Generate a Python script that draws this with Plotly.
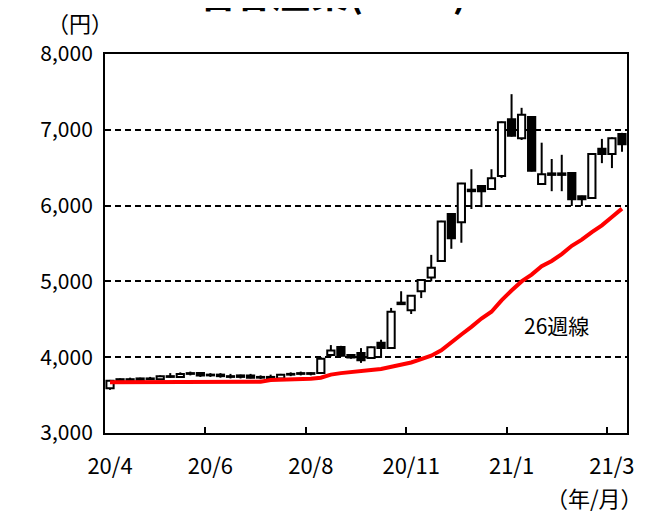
import plotly.graph_objects as go

# ---- data (weekly, 52 weeks from 2020/4 to 2021/3) ----
week_index = list(range(52))
open_ = [3590, 3690, 3710, 3700, 3720, 3710, 3750, 3740, 3780, 3790,
         3760, 3770, 3750, 3740, 3760, 3730, 3740, 3720, 3770, 3780,
         3790, 3790, 4030, 4135, 4030, 4055, 3990, 4190, 4120, 4720,
         4620, 4870, 5050, 5270, 5890, 5780, 6210, 6260, 6220, 6390,
         7140, 6890, 7170, 6285, 6425, 6425, 6430, 6125, 6100, 6750,
         6680, 6945]
high_ = [3700, 3720, 3730, 3730, 3740, 3760, 3790, 3800, 3810, 3800,
         3790, 3790, 3780, 3770, 3780, 3760, 3770, 3780, 3800, 3810,
         3800, 4000, 4160, 4150, 4040, 4120, 4140, 4230, 4650, 4870,
         4820, 5030, 5350, 5800, 5900, 6300, 6480, 6270, 6480, 7110,
         7470, 7290, 7180, 6830, 6615, 6670, 6430, 6130, 6690, 6880,
         6900, 6960]
low_ = [3570, 3680, 3690, 3690, 3700, 3700, 3730, 3730, 3760, 3740,
        3740, 3730, 3720, 3720, 3720, 3710, 3710, 3710, 3750, 3760,
        3760, 3780, 4010, 4010, 3980, 3925, 3980, 3990, 4110, 4700,
        4570, 4780, 5000, 5260, 5430, 5510, 5955, 5980, 6210, 6365,
        6910, 6865, 6450, 6280, 6190, 6190, 5995, 5995, 6090, 6560,
        6495, 6710]
close_ = [3690, 3710, 3700, 3720, 3710, 3750, 3740, 3780, 3790, 3760,
          3770, 3750, 3740, 3760, 3730, 3740, 3720, 3770, 3780, 3790,
          3780, 3980, 4090, 4020, 3995, 3960, 4130, 4120, 4600, 4700,
          4810, 5020, 5180, 5790, 5570, 6290, 6190, 6190, 6360, 7100,
          6920, 7200, 6460, 6415, 6405, 6405, 6085, 6085, 6680, 6680,
          6890, 6810]
ma26 = [3670, 3670, 3670, 3670, 3670, 3670, 3670, 3670, 3670, 3670,
        3670, 3670, 3670, 3670, 3670, 3675, 3700, 3705, 3705, 3705,
        3715, 3730, 3770, 3790, 3800, 3820, 3830, 3845, 3870, 3900,
        3930, 3975, 4020, 4090, 4200, 4300, 4400, 4510, 4600, 4750,
        4880, 5000, 5090, 5200, 5270, 5360, 5470, 5550, 5650, 5740,
        5850, 5960]
tick_label_pos = [0, 10, 20, 30, 40, 50]
tick_labels = ["20/4", "20/6", "20/8", "20/11", "21/1", "21/3"]
tick_mark_pos = [9.5, 19.5, 29.5, 39.5, 49.5]
y_ticks = [3000, 4000, 5000, 6000, 7000, 8000]

FONT = "Noto Sans CJK JP"

# ---- derived geometry from data ----
body_lo = [min(o, c) for o, c in zip(open_, close_)]
body_hi = [max(o, c) for o, c in zip(open_, close_)]
body_h = [max(h - l, 6) for h, l in zip(body_hi, body_lo)]
body_col = ["white" if c >= o else "black" for o, c in zip(open_, close_)]

wx, wy = [], []
for i, lo, hi, l, h in zip(week_index, body_lo, body_hi, low_, high_):
    if h > hi:
        wx += [i, i, None]
        wy += [hi, h, None]
    if l < lo:
        wx += [i, i, None]
        wy += [l, lo, None]

fig = go.Figure()
fig.add_trace(go.Bar(
    x=week_index, y=body_h, base=body_lo, width=0.72,
    marker=dict(color=body_col, line=dict(color="black", width=2)),
    showlegend=False, hoverinfo="skip"))
fig.add_trace(go.Scatter(
    x=wx, y=wy, mode="lines", line=dict(color="black", width=2),
    showlegend=False, hoverinfo="skip"))
fig.add_trace(go.Scatter(
    x=week_index, y=ma26, mode="lines", line=dict(color="#ff0000", width=4),
    showlegend=False, hoverinfo="skip"))
fig.add_trace(go.Scatter(x=[None], y=[None], xaxis="x2", showlegend=False,
                         hoverinfo="skip"))

fig.update_layout(
    width=648, height=508,
    margin=dict(l=97, r=29, t=46, b=83),
    paper_bgcolor="white", plot_bgcolor="white",
    font=dict(family=FONT, color="black", size=20),
    title=dict(text="<b>岩谷産業(8088)</b>", font=dict(size=38, family=FONT),
               x=0.5, xanchor="center", xref="container",
               y=1.0, yanchor="bottom", yref="container",
               pad=dict(b=1, t=0)),
    xaxis=dict(range=[-0.5, 51.5], tickvals=tick_label_pos, ticktext=tick_labels,
               ticks="", showgrid=False, zeroline=False,
               showline=True, linecolor="black", linewidth=2, mirror=True,
               tickfont=dict(size=22), ticklabelstandoff=13),
    xaxis2=dict(range=[-0.5, 51.5], overlaying="x", anchor="y", side="bottom",
                tickvals=tick_mark_pos, ticks="inside", ticklen=6, tickwidth=2,
                tickcolor="black", showticklabels=False, showgrid=False,
                zeroline=False, showline=False),
    yaxis=dict(range=[3000, 8000], tickvals=y_ticks, tickformat=",",
               ticks="", showgrid=True, gridcolor="black", gridwidth=1.5,
               griddash="6px,4px", zeroline=False,
               showline=True, linecolor="black", linewidth=2, mirror=True,
               tickfont=dict(size=21), ticklabelstandoff=6),
    annotations=[
        dict(text="（円）", xref="paper", yref="paper", x=0, y=1.0,
             xanchor="center", yanchor="middle", xshift=-25, yshift=32,
             showarrow=False, font=dict(size=22)),
        dict(text="（年/月）", xref="paper", yref="paper", x=1.0, y=0,
             xanchor="center", yanchor="middle", xshift=-33, yshift=-64,
             showarrow=False, font=dict(size=22)),
        dict(text="26週線", x=44.5, y=4420, xref="x", yref="y",
             showarrow=False, font=dict(size=21)),
    ],
)

fig.write_html("out.html")
